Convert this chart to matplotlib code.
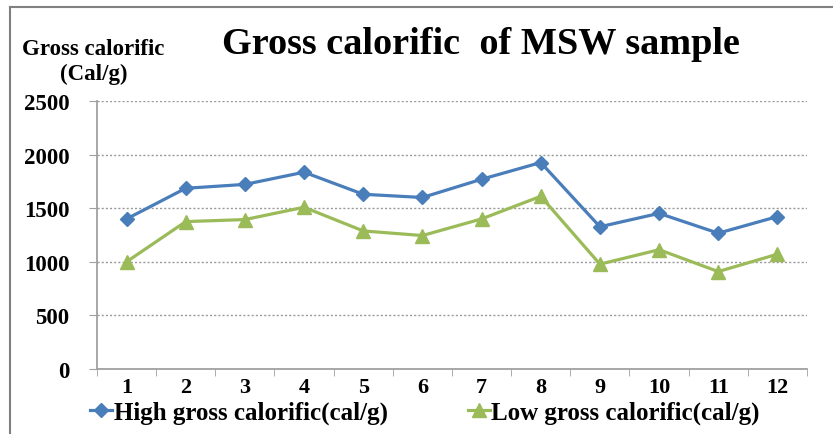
import matplotlib.pyplot as plt
import numpy as np

# samples and calorific values (cal/g)
samples = ['1', '2', '3', '4', '5', '6', '7', '8', '9', '10', '11', '12']
high_gross = [1400, 1686, 1722, 1836, 1630, 1600, 1770, 1926, 1327, 1452, 1267, 1422]
low_gross = [1000, 1375, 1394, 1509, 1288, 1245, 1400, 1611, 978, 1113, 909, 1071]
y_ticks = [0, 500, 1000, 1500, 2000, 2500]

plt.rcParams['font.family'] = ['Liberation Serif', 'DejaVu Serif']
plt.rcParams['font.weight'] = 'bold'

fig = plt.figure(figsize=(8.33, 4.35), dpi=100)
ax = fig.add_axes([0.1164, 0.1494, 0.8524, 0.6161])

x = np.arange(len(samples))
ax.plot(x, high_gross, color='#4a7ebb', lw=2.3, marker='D', ms=7,
        label='High gross calorific(cal/g)')
ax.plot(x, low_gross, color='#9bbb59', lw=2.3, marker='^', ms=9.5,
        label='Low gross calorific(cal/g)')

ax.set_xlim(-0.5, len(samples) - 0.5)
ax.set_ylim(0, 2500)
ax.set_yticks(y_ticks)
ax.set_yticklabels([str(v) for v in y_ticks], fontsize=16.5, fontweight='bold')
ax.set_xticks(x)
ax.set_xticklabels(samples, fontsize=16, fontweight='bold')
ax.tick_params(axis='x', length=0, pad=6)
# category boundary ticks on x axis
ax.set_xticks(np.arange(-0.5, len(samples)), minor=True)
ax.tick_params(axis='x', which='minor', length=5, color='#a0a0a0', direction='out')
ax.tick_params(axis='y', length=6, color='#a0a0a0', pad=14)

ax.grid(axis='y', color='#9a9a9a', ls=(0, (1.5, 1.5)), lw=1)
for side in ['top', 'right']:
    ax.spines[side].set_visible(False)
ax.spines['left'].set_color('#a0a0a0')
ax.spines['bottom'].set_color('#a0a0a0')
ax.spines['left'].set_linewidth(1.3)
ax.spines['bottom'].set_linewidth(1.3)

fig.text(0.577, 0.897, 'Gross calorific  of MSW sample', ha='center', va='center',
         fontsize=27.5, fontweight='bold')
fig.text(0.112, 0.887, 'Gross calorific', ha='center', va='center',
         fontsize=16.5, fontweight='bold')
fig.text(0.112, 0.83, '(Cal/g)', ha='center', va='center',
         fontsize=16.5, fontweight='bold')

fig.legend(loc='center', bbox_to_anchor=(0.51, 0.05), ncol=2, frameon=False,
           handlelength=0.9, handletextpad=0.05, columnspacing=3.2,
           prop={'weight': 'bold', 'size': 18})

# outer chart frame
fig.add_artist(plt.Line2D([0.012, 0.012], [0, 0.982], color='#808080', lw=1.5))
fig.add_artist(plt.Line2D([0.012, 1.0], [0.982, 0.982], color='#808080', lw=1.5))

fig.savefig('out.png', dpi=100)
